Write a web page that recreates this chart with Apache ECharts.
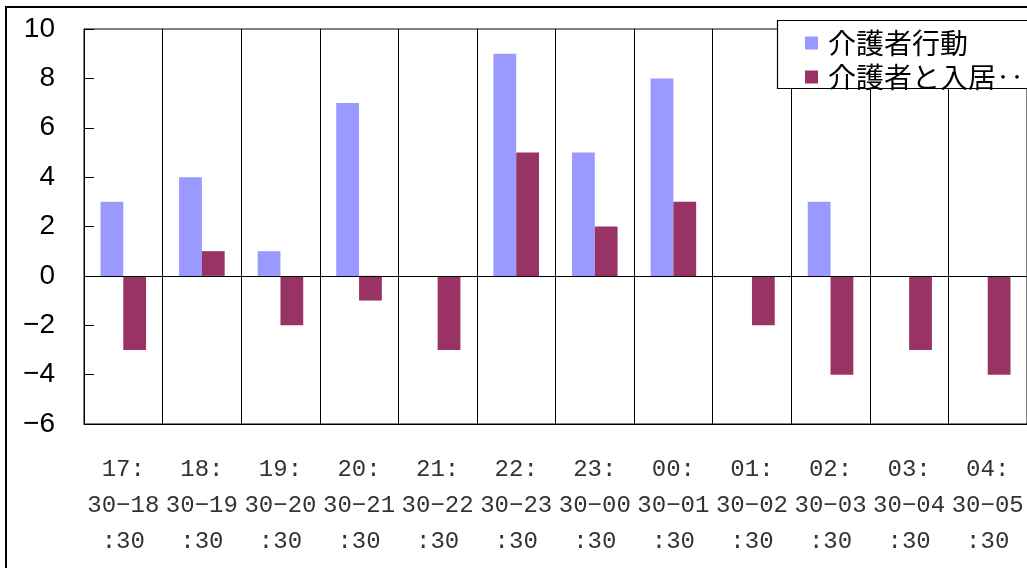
<!DOCTYPE html>
<html>
<head>
<meta charset="utf-8">
<script src="https://cdn.jsdelivr.net/npm/echarts@6/dist/echarts.min.js"></script>
<style>
  html, body { margin: 0; padding: 0; background: #fff; }
  #chart { width: 1027px; height: 568px; }
</style>
</head>
<body>
<div id="chart"></div>
<script>
// Half-hour time slots, one evening through early morning
const categories = [
  '17:\n30-18\n:30', '18:\n30-19\n:30', '19:\n30-20\n:30', '20:\n30-21\n:30',
  '21:\n30-22\n:30', '22:\n30-23\n:30', '23:\n30-00\n:30', '00:\n30-01\n:30',
  '01:\n30-02\n:30', '02:\n30-03\n:30', '03:\n30-04\n:30', '04:\n30-05\n:30'
];
const seriesNames = ['介護者行動', '介護者と入居‥'];
const caregiverActions = [3, 4, 1, 7, 0, 9, 5, 8, 0, 3, 0, 0];
const caregiverResident = [-3, 1, -2, -1, -3, 5, 2, 3, -2, -4, -3, -4];
const yMin = -6, yMax = 10, yStep = 2;

// typographic minus for negative numbers and time-range dashes
const toMinus = s => String(s).replace(/-/g, '\u2212');

const chart = echarts.init(document.getElementById('chart'), null, { renderer: 'canvas' });

chart.setOption({
  animation: false,
  backgroundColor: '#fff',
  grid: {
    left: 84, top: 29, width: 943, height: 395,
    show: true, borderColor: '#000', borderWidth: 1
  },
  legend: {
    orient: 'vertical',
    left: 805, top: 26,
    padding: 0,
    itemGap: 0,
    itemWidth: 13, itemHeight: 13,
    icon: 'rect',
    data: seriesNames,
    textStyle: {
      fontFamily: '"Noto Sans CJK JP", sans-serif',
      fontSize: 28, lineHeight: 34, color: '#000',
      padding: [0, 0, 0, 5]
    }
  },
  graphic: [
    {
      // outer chart frame
      type: 'rect', z: -10, silent: true,
      shape: { x: 6, y: 7, width: 1200, height: 800 },
      style: { fill: 'none', stroke: '#000', lineWidth: 2 }
    },
    {
      // legend box
      type: 'rect', z: 3, silent: true,
      shape: { x: 777.5, y: 20.5, width: 400, height: 68 },
      style: { fill: '#fff', stroke: '#000', lineWidth: 1.2 }
    }
  ],
  xAxis: {
    type: 'category',
    data: categories,
    boundaryGap: true,
    axisLine: { onZero: false, lineStyle: { color: '#000', width: 1 } },
    axisTick: { show: false },
    splitLine: { show: true, lineStyle: { color: '#000', width: 1 } },
    axisLabel: {
      interval: 0,
      margin: 28,
      formatter: toMinus,
      fontFamily: '"Liberation Mono", monospace',
      fontSize: 24, lineHeight: 36, color: '#333'
    }
  },
  yAxis: {
    type: 'value',
    min: yMin, max: yMax, interval: yStep,
    axisLine: { show: true, lineStyle: { color: '#000', width: 1 } },
    axisTick: { show: true, inside: true, length: 10, lineStyle: { color: '#000' } },
    splitLine: { show: false },
    axisLabel: {
      margin: 29,
      formatter: toMinus,
      fontFamily: '"Liberation Sans", Arial, sans-serif',
      fontSize: 28, color: '#000'
    }
  },
  series: [
    {
      name: seriesNames[0],
      type: 'bar',
      data: caregiverActions,
      barGap: '0%',
      barCategoryGap: '42%',
      itemStyle: { color: '#9999FF' },
      markLine: {
        silent: true, symbol: 'none',
        label: { show: false },
        lineStyle: { color: '#000', type: 'solid', width: 1 },
        data: [{ yAxis: 0 }]
      }
    },
    {
      name: seriesNames[1],
      type: 'bar',
      data: caregiverResident,
      barGap: '0%',
      barCategoryGap: '42%',
      itemStyle: { color: '#993366' }
    }
  ]
});
</script>
</body>
</html>
